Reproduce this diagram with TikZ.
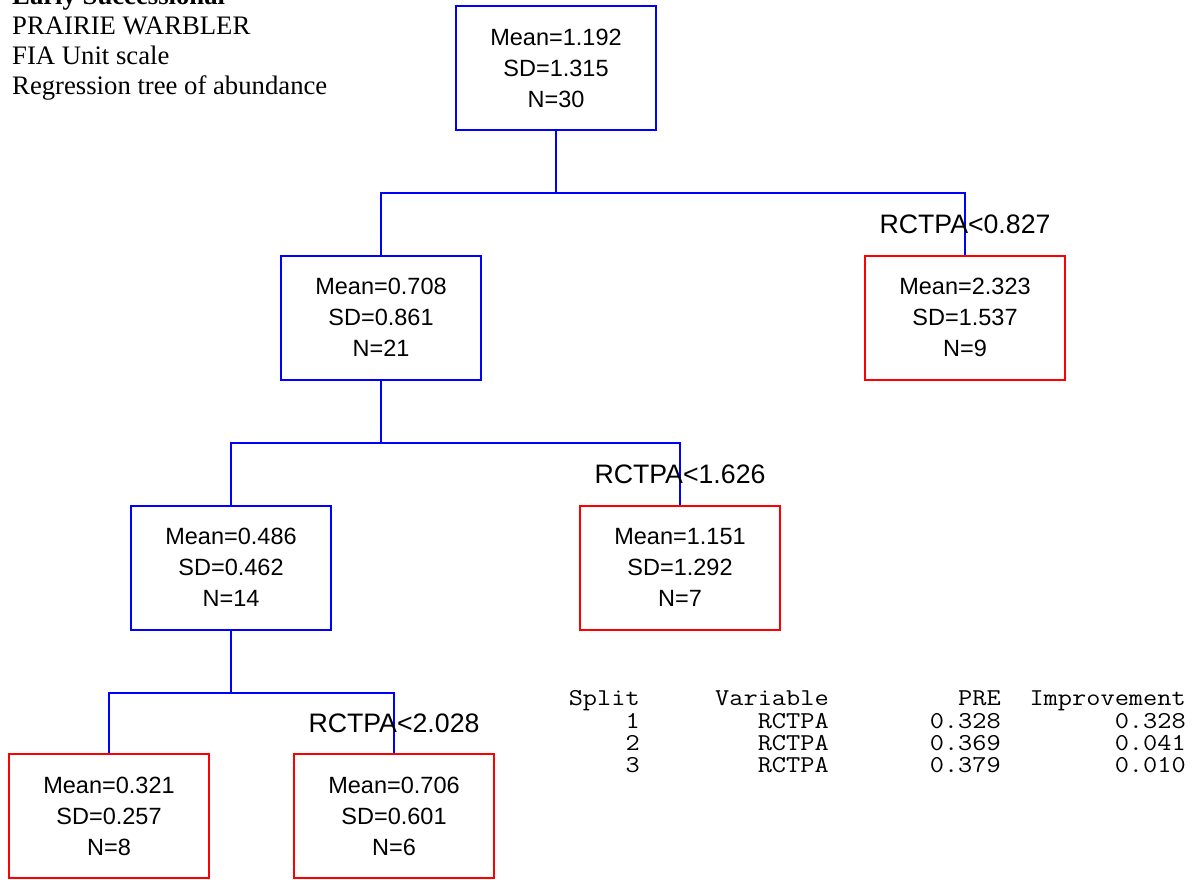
\documentclass[tikz,border=0pt]{standalone}
\usepackage{fontspec}
\setmainfont{Liberation Serif}
\newfontfamily\arialfont{Liberation Sans}
\newfontfamily\courfont[FakeStretch=1.14]{Latin Modern Mono}
\begin{document}
\begin{tikzpicture}[x=1pt,y=-1pt,
  tnode/.style={draw, line width=2pt, minimum width=200pt, minimum height=124pt,
    inner sep=0pt, align=center, font=\arialfont\fontsize{23.5}{31}\selectfont},
  splitnode/.style={tnode, draw=blue},
  leafnode/.style={tnode, draw=red},
  edge/.style={draw=blue, line width=2pt},
  rulelabel/.style={anchor=base, inner sep=0pt, font=\arialfont\fontsize{26.7}{30}\selectfont},
  headline/.style={anchor=base west, inner sep=0pt, font=\fontsize{26.7}{30}\selectfont},
  cell/.style={anchor=base east, inner sep=0pt, font=\courfont\fontsize{24.2}{22}\selectfont}]
\useasboundingbox (0,0) rectangle (1195,879);

% header text
\node[headline, font=\bfseries\fontsize{26.7}{30}\selectfont] (t0) at (12,4.5) {Early Successional};
\node[headline] (t1) at (12,34.5) {PRAIRIE WARBLER};
\node[headline] (t2) at (12,64.5) {FIA Unit scale};
\node[headline] (t3) at (12,94.5) {Regression tree of abundance};

% tree nodes
\node[splitnode] (root) at (556,68)    {Mean=1.192\\SD=1.315\\N=30};
\node[splitnode] (l1)   at (381,317.5) {Mean=0.708\\SD=0.861\\N=21};
\node[leafnode]  (r1)   at (965,317.5) {Mean=2.323\\SD=1.537\\N=9};
\node[splitnode] (l2)   at (231,567.5) {Mean=0.486\\SD=0.462\\N=14};
\node[leafnode]  (r2)   at (680,567.5) {Mean=1.151\\SD=1.292\\N=7};
\node[leafnode]  (l3)   at (109,816)   {Mean=0.321\\SD=0.257\\N=8};
\node[leafnode]  (r3)   at (394,816)   {Mean=0.706\\SD=0.601\\N=6};

% branch junctions
\coordinate (j1) at (556,192.5);
\coordinate (j2) at (381,442.5);
\coordinate (j3) at (231,692.5);

\draw[edge] (root.south) -- (j1);
\draw[edge] (l1.north) |- (j1) -| (r1.north);
\draw[edge] (l1.south) -- (j2);
\draw[edge] (l2.north) |- (j2) -| (r2.north);
\draw[edge] (l2.south) -- (j3);
\draw[edge] (l3.north) |- (j3) -| (r3.north);

% split rules
\node[rulelabel] (s1) at (965,233) {RCTPA<0.827};
\node[rulelabel] (s2) at (680,483) {RCTPA<1.626};
\node[rulelabel] (s3) at (394,732) {RCTPA<2.028};

% split summary table
\node[cell] (h1) at (640,705.7) {Split};
\node[cell] (h2) at (829,705.7) {Variable};
\node[cell] (h3) at (1001,705.7) {PRE};
\node[cell] (h4) at (1186,705.7) {Improvement};

\node[cell] (a1) at (640,728) {1};
\node[cell] (a2) at (829,728) {RCTPA};
\node[cell] (a3) at (1001,728) {0.328};
\node[cell] (a4) at (1186,728) {0.328};

\node[cell] (b1) at (640,750.3) {2};
\node[cell] (b2) at (829,750.3) {RCTPA};
\node[cell] (b3) at (1001,750.3) {0.369};
\node[cell] (b4) at (1186,750.3) {0.041};

\node[cell] (c1) at (640,772.6) {3};
\node[cell] (c2) at (829,772.6) {RCTPA};
\node[cell] (c3) at (1001,772.6) {0.379};
\node[cell] (c4) at (1186,772.6) {0.010};
\end{tikzpicture}
\end{document}
